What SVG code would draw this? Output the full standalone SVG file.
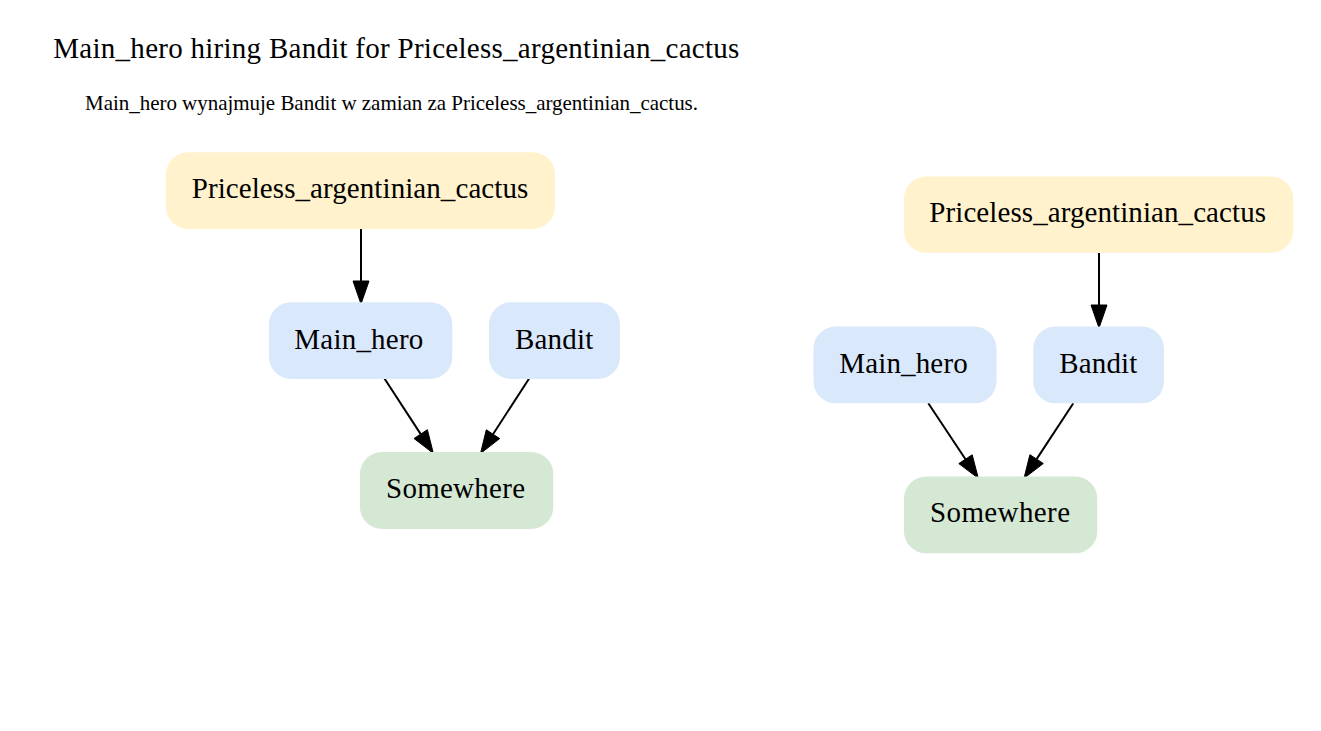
<svg xmlns="http://www.w3.org/2000/svg" width="1321" height="731" viewBox="0 0 1321 731">
<style>
.title{font-family:"Liberation Serif","Times New Roman",serif;font-size:29px;fill:#000}
.sub{font-family:"Liberation Serif","Times New Roman",serif;font-size:21px;fill:#000}
.lbl{font-family:"Liberation Serif","Times New Roman",serif;font-size:29px;fill:#000}
.item{fill:#fff2cc}
.char{fill:#dae8fc}
.place{fill:#d5e8d4}
.edge{stroke:#000;stroke-width:2;fill:none}
.head{fill:#000;stroke:#000;stroke-width:1}
</style>
<rect width="1321" height="731" fill="#fff"/>
<text class="title" x="53.3" y="57.5" textLength="686">Main_hero hiring Bandit for Priceless_argentinian_cactus</text>
<text class="sub" x="85" y="110" textLength="613">Main_hero wynajmuje Bandit w zamian za Priceless_argentinian_cactus.</text>

<g id="connectors">
<line class="edge" x1="361" y1="229" x2="361" y2="282"/>
<polygon class="head" points="353,281 369,281 361,304"/>
<line class="edge" x1="384.3" y1="378.3" x2="420.7" y2="434.1"/>
<polygon class="head" points="414,438.5 427.4,429.7 433.3,453.3"/>
<line class="edge" x1="529.3" y1="378.3" x2="493" y2="434.2"/>
<polygon class="head" points="499.7,438.6 486.3,429.8 480.5,453.5"/>
<line class="edge" x1="1099" y1="253" x2="1099" y2="306"/>
<polygon class="head" points="1091,305 1107,305 1099,328"/>
<line class="edge" x1="928.3" y1="403.3" x2="965.5" y2="459.2"/>
<polygon class="head" points="958.8,463.6 972.2,454.8 978.3,478.3"/>
<line class="edge" x1="1073.3" y1="403.3" x2="1036.6" y2="459.1"/>
<polygon class="head" points="1043.3,463.5 1029.9,454.7 1024,478.3"/>
</g>

<g id="cactus-left">
<rect class="item" x="166" y="152.3" width="389" height="76.7" rx="22"/>
<text class="lbl" x="191.7" y="198.3" textLength="336.6">Priceless_argentinian_cactus</text>
</g>
<g id="main-hero-left">
<rect class="char" x="269" y="302.3" width="183.3" height="76.7" rx="22"/>
<text class="lbl" x="294.3" y="349" textLength="129">Main_hero</text>
</g>
<g id="bandit-left">
<rect class="char" x="489" y="302.3" width="131" height="76.7" rx="22"/>
<text class="lbl" x="515" y="349" textLength="78.3">Bandit</text>
</g>
<g id="somewhere-left">
<rect class="place" x="360" y="452" width="193.3" height="77" rx="22"/>
<text class="lbl" x="386" y="498.3" textLength="139">Somewhere</text>
</g>

<g id="cactus-right">
<rect class="item" x="904" y="176.5" width="389.3" height="76.3" rx="22"/>
<text class="lbl" x="929.3" y="222.3" textLength="336.7">Priceless_argentinian_cactus</text>
</g>
<g id="main-hero-right">
<rect class="char" x="813.5" y="326.5" width="183" height="76.8" rx="22"/>
<text class="lbl" x="839.3" y="373" textLength="128.4">Main_hero</text>
</g>
<g id="bandit-right">
<rect class="char" x="1033.3" y="326.5" width="130.7" height="76.8" rx="22"/>
<text class="lbl" x="1059.3" y="373" textLength="78">Bandit</text>
</g>
<g id="somewhere-right">
<rect class="place" x="904" y="476.5" width="193.3" height="76.8" rx="22"/>
<text class="lbl" x="930" y="522.3" textLength="140">Somewhere</text>
</g>
</svg>
